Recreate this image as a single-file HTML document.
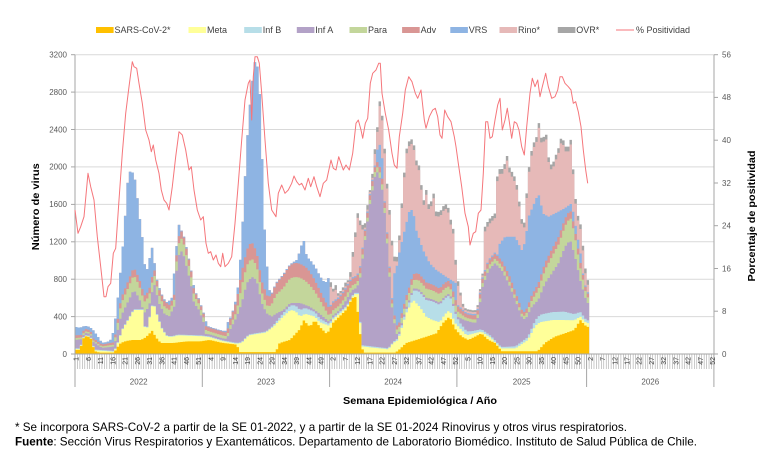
<!DOCTYPE html>
<html><head><meta charset="utf-8">
<style>
html,body{margin:0;padding:0;background:#fff;}
svg{display:block;font-family:"Liberation Sans",Arial,sans-serif;}
</style></head>
<body>
<svg id="c" width="778" height="465" viewBox="0 0 778 465" xmlns="http://www.w3.org/2000/svg">
<rect width="778" height="465" fill="#fff"/>
<g stroke="#D9D9D9" stroke-width="1">
<line x1="75" y1="54.7" x2="714" y2="54.7"/>
<line x1="75" y1="92.1" x2="714" y2="92.1"/>
<line x1="75" y1="129.5" x2="714" y2="129.5"/>
<line x1="75" y1="166.9" x2="714" y2="166.9"/>
<line x1="75" y1="204.4" x2="714" y2="204.4"/>
<line x1="75" y1="241.8" x2="714" y2="241.8"/>
<line x1="75" y1="279.2" x2="714" y2="279.2"/>
<line x1="75" y1="316.6" x2="714" y2="316.6"/>
</g>
<g id="areas"></g>
<g id="ticks" stroke="#A6A6A6" stroke-width="0.6"></g>
<g stroke="#A6A6A6" stroke-width="1">
<line x1="75" y1="54.7" x2="75" y2="354"/>
<line x1="714" y1="54.7" x2="714" y2="354"/>
<line x1="75" y1="354" x2="714" y2="354"/>
<line x1="71" y1="54.7" x2="75" y2="54.7"/><line x1="71" y1="92.1" x2="75" y2="92.1"/><line x1="71" y1="129.5" x2="75" y2="129.5"/><line x1="71" y1="166.9" x2="75" y2="166.9"/><line x1="71" y1="204.4" x2="75" y2="204.4"/><line x1="71" y1="241.8" x2="75" y2="241.8"/><line x1="71" y1="279.2" x2="75" y2="279.2"/><line x1="71" y1="316.6" x2="75" y2="316.6"/><line x1="71" y1="354" x2="75" y2="354"/>
<line x1="714" y1="54.7" x2="718" y2="54.7"/><line x1="714" y1="97.4" x2="718" y2="97.4"/><line x1="714" y1="140.2" x2="718" y2="140.2"/><line x1="714" y1="183" x2="718" y2="183"/><line x1="714" y1="225.7" x2="718" y2="225.7"/><line x1="714" y1="268.5" x2="718" y2="268.5"/><line x1="714" y1="311.2" x2="718" y2="311.2"/><line x1="714" y1="354" x2="718" y2="354"/>
<line x1="75" y1="354" x2="75" y2="387"/>
<line x1="202.3" y1="354" x2="202.3" y2="387"/>
<line x1="329.6" y1="354" x2="329.6" y2="387"/>
<line x1="456.9" y1="354" x2="456.9" y2="387"/>
<line x1="586.6" y1="354" x2="586.6" y2="387"/>
<line x1="713.9" y1="354" x2="713.9" y2="387"/>
</g>
<polyline fill="none" stroke="#F5767B" stroke-width="1" stroke-linejoin="round" points="75,210 78,233.3 80.7,226.7 84,216.7 88,173.3 90.7,186.7 94,200 97.3,236.7 100.7,266.7 104,296.7 106,296.7 108,286.7 110.7,283.3 113.3,253.3 115.7,248.3 119,200 122.3,153.3 125.7,113.3 129,86.7 132.3,61.7 134,66.7 136.7,68.3 139,83.3 142.3,103.3 145.7,130 149,140 151.3,151.7 153.3,145 155.7,160 159,173.3 161.3,190 164,200 166.7,203.3 169,210 172.3,186.7 175.7,156.7 179,131.7 182.3,135 185.7,150 189,170 191.3,166.7 194,190 197.3,210 200.7,220 203.3,216.7 206,243.3 208.3,253.3 210.7,251.7 213.3,260 216,255 218.3,263.3 220.7,266.7 222.7,253.3 225,266.7 228.3,263.3 231.7,256.7 235,223.3 238.3,183.3 241.7,140 245,100 248.3,83.3 250,80 251.7,120 253.3,76.7 255,56.7 257.3,56.7 259.3,63.3 261.7,93.3 265,140 268.3,183.3 271.7,210 276,216.7 278.3,193.3 281.7,185 285,193.3 288.3,190 291.7,183.3 294,176 296.7,181.7 299.3,185 301.7,183.3 305,190 308.3,178.3 310.7,186.7 314,176.7 316.7,186.7 320,196.7 323.3,183.3 326.7,180 331,160 333.3,168.3 336,170 338.7,156.7 341,163.3 343.3,170 346,165 349.3,170 352.7,153.3 356,123.3 358.3,120 361,130 362.7,138.3 365.3,123.3 367.7,118.3 370.3,83.3 372.7,73.3 376,70 378.7,63.3 380.3,63.3 382,93.3 385.3,113.3 388.7,130 392,153.3 394.3,165 397,168.3 399.3,136.7 402.7,113.3 405.3,90 408.7,76.7 412,81.7 415.3,93.3 417.7,98.3 421,90 424.3,120 426,128.3 429.3,116.7 432.7,110 435.3,108.3 437.7,116.7 440,135 442,138.3 444.7,110 447.7,116.7 451,121.7 454.3,136.7 456,146.7 458.3,163.3 461.7,186.7 465,213.3 468.3,226.7 470,245 473.3,233.3 475.7,231.7 478.3,213.3 481,210 483.3,173.3 485.7,121.7 487.7,121.7 490,138.3 492.3,136.7 495,120 497.7,105 500,98.3 502.3,130 505,120 507.3,108.3 509.3,121.7 511.7,138.3 514.3,121.7 516.7,123.3 519,130 521.7,146.7 524.3,155 526.7,126.7 530,93.3 532.3,78.3 535,86.7 537.7,80 540,96.7 542.3,86.7 545.7,73.3 548.3,86.7 551.7,98.3 555,96.7 557.7,90 560,76.7 562.3,76.7 565,83.3 568.3,86.7 571,90 573.3,103.3 575.7,101.7 578.3,111.7 581,126.7 583.3,150 585.7,170 587.7,183.3"/>
<g font-size="8" fill="#595959" text-anchor="end">
<text x="67" y="57.5">3200</text>
<text x="67" y="94.9">2800</text>
<text x="67" y="132.3">2400</text>
<text x="67" y="169.7">2000</text>
<text x="67" y="207.2">1600</text>
<text x="67" y="244.6">1200</text>
<text x="67" y="282">800</text>
<text x="67" y="319.4">400</text>
<text x="67" y="356.8">0</text>
</g>
<g font-size="8" fill="#595959">
<text x="722" y="57.5">56</text>
<text x="722" y="100.2">48</text>
<text x="722" y="143">40</text>
<text x="722" y="185.8">32</text>
<text x="722" y="228.5">24</text>
<text x="722" y="271.3">16</text>
<text x="722" y="314">8</text>
<text x="722" y="356.8">0</text>
</g>
<g font-size="7" fill="#404040" text-anchor="end">
<text transform="translate(78.7,357) rotate(-90)">1</text>
<text transform="translate(90.9,357) rotate(-90)">6</text>
<text transform="translate(103.2,357) rotate(-90)">11</text>
<text transform="translate(115.4,357) rotate(-90)">16</text>
<text transform="translate(127.7,357) rotate(-90)">21</text>
<text transform="translate(139.9,357) rotate(-90)">26</text>
<text transform="translate(152.1,357) rotate(-90)">31</text>
<text transform="translate(164.4,357) rotate(-90)">36</text>
<text transform="translate(176.6,357) rotate(-90)">41</text>
<text transform="translate(188.9,357) rotate(-90)">46</text>
<text transform="translate(201.1,357) rotate(-90)">51</text>
<text transform="translate(213.3,357) rotate(-90)">4</text>
<text transform="translate(225.6,357) rotate(-90)">9</text>
<text transform="translate(237.8,357) rotate(-90)">14</text>
<text transform="translate(250.1,357) rotate(-90)">19</text>
<text transform="translate(262.3,357) rotate(-90)">24</text>
<text transform="translate(274.5,357) rotate(-90)">29</text>
<text transform="translate(286.8,357) rotate(-90)">34</text>
<text transform="translate(299,357) rotate(-90)">39</text>
<text transform="translate(311.3,357) rotate(-90)">44</text>
<text transform="translate(323.5,357) rotate(-90)">49</text>
<text transform="translate(335.7,357) rotate(-90)">2</text>
<text transform="translate(348,357) rotate(-90)">7</text>
<text transform="translate(360.2,357) rotate(-90)">12</text>
<text transform="translate(372.5,357) rotate(-90)">17</text>
<text transform="translate(384.7,357) rotate(-90)">22</text>
<text transform="translate(396.9,357) rotate(-90)">27</text>
<text transform="translate(409.2,357) rotate(-90)">32</text>
<text transform="translate(421.4,357) rotate(-90)">37</text>
<text transform="translate(433.7,357) rotate(-90)">42</text>
<text transform="translate(445.9,357) rotate(-90)">47</text>
<text transform="translate(458.1,357) rotate(-90)">52</text>
<text transform="translate(470.4,357) rotate(-90)">5</text>
<text transform="translate(482.6,357) rotate(-90)">10</text>
<text transform="translate(494.9,357) rotate(-90)">15</text>
<text transform="translate(507.1,357) rotate(-90)">20</text>
<text transform="translate(519.3,357) rotate(-90)">25</text>
<text transform="translate(531.6,357) rotate(-90)">30</text>
<text transform="translate(543.8,357) rotate(-90)">35</text>
<text transform="translate(556.1,357) rotate(-90)">40</text>
<text transform="translate(568.3,357) rotate(-90)">45</text>
<text transform="translate(580.5,357) rotate(-90)">50</text>
<text transform="translate(592.8,357) rotate(-90)">2</text>
<text transform="translate(605,357) rotate(-90)">7</text>
<text transform="translate(617.3,357) rotate(-90)">12</text>
<text transform="translate(629.5,357) rotate(-90)">17</text>
<text transform="translate(641.7,357) rotate(-90)">22</text>
<text transform="translate(654,357) rotate(-90)">27</text>
<text transform="translate(666.2,357) rotate(-90)">32</text>
<text transform="translate(678.5,357) rotate(-90)">37</text>
<text transform="translate(690.7,357) rotate(-90)">42</text>
<text transform="translate(702.9,357) rotate(-90)">47</text>
<text transform="translate(715.2,357) rotate(-90)">52</text>
</g>
<g font-size="8" fill="#595959" text-anchor="middle">
<text x="138.7" y="384.5">2022</text>
<text x="266" y="384.5">2023</text>
<text x="393.2" y="384.5">2024</text>
<text x="521.7" y="384.5">2025</text>
<text x="650.3" y="384.5">2026</text>
</g>
<text x="420" y="404" font-size="10.5" font-weight="bold" fill="#000" text-anchor="middle" textLength="154" lengthAdjust="spacingAndGlyphs">Semana Epidemiológica / Año</text>
<text transform="translate(39,206.7) rotate(-90)" font-size="10" font-weight="bold" fill="#000" text-anchor="middle" textLength="87" lengthAdjust="spacingAndGlyphs">Número de virus</text>
<text transform="translate(755,216) rotate(-90)" font-size="10" font-weight="bold" fill="#000" text-anchor="middle" textLength="131" lengthAdjust="spacingAndGlyphs">Porcentaje de positividad</text>
<g font-size="9" fill="#404040">
<rect x="96" y="27" width="17.6" height="6" fill="#FFC000"/><text x="114.5" y="32.9">SARS-CoV-2*</text>
<rect x="188.5" y="27" width="17.6" height="6" fill="#FFFF99"/><text x="207" y="32.9">Meta</text>
<rect x="244.2" y="27" width="17.6" height="6" fill="#B7DEE8"/><text x="262.7" y="32.9">Inf B</text>
<rect x="296.8" y="27" width="17.6" height="6" fill="#B3A2C7"/><text x="315.3" y="32.9">Inf A</text>
<rect x="349.5" y="27" width="17.6" height="6" fill="#C3D69B"/><text x="368" y="32.9">Para</text>
<rect x="402.1" y="27" width="17.6" height="6" fill="#D99694"/><text x="420.6" y="32.9">Adv</text>
<rect x="450.3" y="27" width="17.6" height="6" fill="#8EB4E3"/><text x="468.8" y="32.9">VRS</text>
<rect x="499.5" y="27" width="17.6" height="6" fill="#E6B9B8"/><text x="518" y="32.9">Rino*</text>
<rect x="557.8" y="27" width="17.6" height="6" fill="#A6A6A6"/><text x="576.3" y="32.9">OVR*</text>
<line x1="616" y1="30" x2="634" y2="30" stroke="#F5767B" stroke-width="1"/><text x="636" y="32.9">% Positividad</text>
</g>
<text x="15" y="431" font-size="12" fill="#000" textLength="612" lengthAdjust="spacingAndGlyphs">* Se incorpora SARS-CoV-2 a partir de la SE 01-2022, y a partir de la SE 01-2024 Rinovirus y otros virus respiratorios.</text>
<text x="15" y="445.5" font-size="12" fill="#000" textLength="682" lengthAdjust="spacingAndGlyphs"><tspan font-weight="bold">Fuente</tspan>: Sección Virus Respiratorios y Exantemáticos. Departamento de Laboratorio Biomédico. Instituto de Salud Pública de Chile.</text>
</svg>
<script>
(function(){
var NS="http://www.w3.org/2000/svg";
var X0=75,W=2.448,N=210;
function X(i){return X0+i*W;}
function Yv(v){return 354-v*0.09353;}
function interp(kf,t){
  if(t<=kf[0])return kf[1];
  for(var k=0;k<kf.length-2;k+=2){
    if(t<=kf[k+2]){var a=(t-kf[k])/(kf[k+2]-kf[k]);return kf[k+1]+a*(kf[k+3]-kf[k+1]);}
  }
  return kf[kf.length-1];
}
var SARS=[0,43,2,45,3.7,185,5,190,6.4,170,8,30,10,15,16,15,17,60,18.7,118,21,140,23.4,150,27,150,29,180,31.6,250,33,180,35,118,40,118,46,135,51,135,55,150,60,120,66,100,67.5,20,82,20,83.6,118,87.8,150,92,270,93.3,363,96,290,98,363,100,290,102.6,220,104,250,105.3,330,108,400,110.7,470,113.4,600,114.8,610,116.2,290,117,85,118,15,131,15,133,60,135.3,118,139.4,150,143.5,185,147.6,220,150.3,330,153,400,155.3,270,158,185,160.7,150,163.4,185,166,220,168.9,150,171.6,118,174.3,30,189,30,192,118,196,185,200,220,204,257,206.4,363,209,290,210,290];
var META=[0,55,16,25,17,80,19.3,257,21.7,363,24,470,27.5,470,28.2,290,29.5,283,30.9,435,31.9,560,33.7,400,35.7,257,37.7,185,40,185,42,200,52,190,55,180,60,140,66,110,68,118,71,200,78,230,81,290,85,400,88,470,90,460,92,400,94,430,98,400,100,340,104,300,105,360,108,430,111,500,114,640,115.5,640,116.5,330,117.5,80,128,50,130,118,132,150,135.3,435,138.1,580,140.8,505,143.5,400,146,363,149,340,151,420,153,470,155.3,330,160,200,166,240,170,170,174,60,180,60,185,150,188,300,190,340,195,363,200,363,204,360,206.4,400,209,330];
var INFB=[0,8,60,8,80,10,86,40,92,70,98,50,104,20,110,15,130,10,136,40,140,150,146,200,150,180,154,150,157,60,162,30,175,15,185,30,190,80,200,90,205,60,209,30];
var INFA=[0,150,5,165,8,120,11,65,16,80,18.7,400,21.4,545,24,687,26.2,598,28.2,435,30.2,505,32.3,757,34.3,545,36.4,435,38.4,400,40.5,505,41.8,1005,43.2,1112,44.6,1040,45.9,898,47.3,757,48.6,545,50.7,470,52.7,328,53.8,150,62,150,63.3,257,66.1,400,68.1,545,70.2,757,72.2,826,74.2,790,76.3,545,78.3,435,80.4,400,82.4,435,85.2,470,87.9,545,92,545,96,505,100,430,104,340,105,370,110,540,113,680,114.5,700,116.2,757,117.6,1040,120.3,1575,123,1967,124.4,1896,125.8,1718,127.1,1326,128.5,826,129.8,400,131.2,257,133,0,154,0,156,400,159.3,360,163.4,330,164.8,400,166.1,687,168.9,898,171.6,970,174.3,898,177.1,757,179.8,580,182.5,400,183.9,363,186.6,505,189.3,580,192,757,194.8,862,197.5,970,200.2,1147,202.3,1219,204.3,1040,206.4,790,209.1,545];
var PARA=[0,20,10,15,16,20,19,130,24,160,28,120,32,100,36,80,40,60,43,140,47,100,51,60,55,30,62,30,66,60,68,180,72,200,76,120,79,80,82,200,86,250,90,280,94,260,98,200,102,100,104,60,108,50,114,50,120,40,125,60,130,40,134,60,138,90,142,100,150,90,155,70,160,30,166,40,172,50,178,40,183,30,186,60,190,120,195,180,200,220,203,250,206,150,209,60];
var ADV=[0,30,10,20,16,25,19,60,24,80,30,60,36,60,40,50,43,80,48,60,51,40,55,40,62,40,68,150,72,180,76,120,80,100,84,130,90,150,95,150,100,100,104,80,108,80,114,70,120,50,126,60,130,40,134,50,140,70,148,60,155,60,160,40,170,50,178,60,183,40,188,60,195,80,202,80,206,60,209,40];
var VRS=[104,0,122,0,123,2150,124.4,2250,125.8,2050,127,0,129,0,129.8,826,131.2,900,132.6,1100,134,1254,136.7,1540,138.1,1540,139.4,1326,142.2,1112,144.9,970,147.6,898,151.6,826,155.7,757,157,0,171,0,172.7,1150,175.7,1254,179.8,1254,182.5,1112,183.9,1200,185.3,1468,189.3,1718,191.3,1500,193.4,1468,196.2,1505,200.2,1560,202.9,1611,204.3,1400,207,1000,208,0,210,0];
var TOT=[0,292,2,280,4,300,5,300,7,270,9,200,11,120,13,125,15,160,16,290,17,470,19,1000,20,1300,21.7,1900,23,1980,24.8,1840,26,1540,27.5,1250,28.6,930,29.8,900,31.2,1150,32,1110,33,830,34.3,720,35.7,610,37.7,545,39.8,610,41,1040,42.5,1380,43.9,1290,45.2,1180,46.6,1005,48,790,49.3,650,50.7,577,52,440,53.8,330,56,185,58,190,61,200,62.7,360,64.7,435,66.8,757,68.1,1220,69.5,1900,70.8,2470,72.2,2860,73.6,3140,74.2,3160,75.6,2750,76.7,1935,77.6,1254,79,757,80.4,545,81.7,470,83.1,650,84.5,826,86.5,862,88.6,970,90.6,1005,92,1112,93.3,1237,94.7,1040,96.1,1005,98.1,933,100.2,826,102.2,757,103.9,826,105.3,690,106.6,740,108,600,110.1,757,112.1,790,114.1,1219,115.5,1505,116.9,1397,118.3,1360,119.6,1611,121,1789,122.3,2146,123.3,2360,124.4,2716,125.8,2502,127.1,1932,128.5,1540,129.8,1112,131.2,970,132.6,1290,134,1789,135.3,2181,136.7,2288,138.1,2300,139.4,2074,140.8,2000,142.2,1611,143.5,1753,144.9,1540,146.3,1753,147.6,1505,149.7,1540,151.1,1611,152.4,1575,153.8,1397,154.6,1330,155.6,970,156.6,757,158,600,159.3,435,161.4,364,163.4,400,164.8,470,166.1,505,167.5,1361,168.9,1432,170.2,1468,171.6,1505,172.7,1985,174.3,1967,175.7,2040,176.4,2130,177.7,1967,179.1,1932,180.4,1825,181.8,1575,183.2,1310,184.5,1718,185.9,2110,187.3,2252,188.6,2324,189.6,2484,191,2217,192.1,2448,193.4,2110,194.8,2003,196.2,2110,197.5,2200,198.9,2342,200.2,2217,201.6,2217,202.7,2306,203.6,1932,205,1505,206.3,1432,207.7,1112,209,790,210,790];
var L=[[],[],[],[],[],[],[],[],[]];
for(var i=0;i<N;i++){
  var t=i+0.5;
  var s=interp(SARS,t);
  var m=Math.max(interp(META,t),s+5);
  var b=m+interp(INFB,t);
  var a=Math.max(interp(INFA,t),b+22);
  var p=a+interp(PARA,t);
  var d=p+interp(ADV,t);
  var tot=interp(TOT,t);
  var v,r,o;
  if(i<104){v=Math.max(tot,d+10);r=v;o=v;}
  else{
    var ov=tot>700?50:30;
    v=Math.max(interp(VRS,t),d+15);
    r=Math.max(tot-ov,v+20);
    o=Math.max(tot,r+20);
  }
  var vals=[s,m,b,a,p,d,v,r,o];
  for(var k=0;k<9;k++)L[k].push(vals[k]);
}
var cols=["#FFC000","#FFFF99","#B7DEE8","#B3A2C7","#C3D69B","#D99694","#8EB4E3","#E6B9B8","#A6A6A6"];
var g=document.getElementById("areas");
for(var k=8;k>=0;k--){
  var arr=L[k];
  var dstr="M"+X(0).toFixed(2)+" 354";
  for(var i=0;i<N;i++){
    var y=Yv(arr[i]).toFixed(2);
    dstr+=" L"+X(i).toFixed(2)+" "+y+" L"+X(i+1).toFixed(2)+" "+y;
  }
  dstr+=" L"+X(N).toFixed(2)+" 354 Z";
  var pth=document.createElementNS(NS,"path");
  pth.setAttribute("d",dstr);
  pth.setAttribute("fill",cols[k]);
  g.appendChild(pth);
}
var tg=document.getElementById("ticks");
for(var q=0;q<=261;q++){
  var ln=document.createElementNS(NS,"line");
  var xx=X(q).toFixed(2);
  ln.setAttribute("x1",xx);ln.setAttribute("x2",xx);
  ln.setAttribute("y1","354");ln.setAttribute("y2","369");
  tg.appendChild(ln);
}
})();
</script>
</body></html>
